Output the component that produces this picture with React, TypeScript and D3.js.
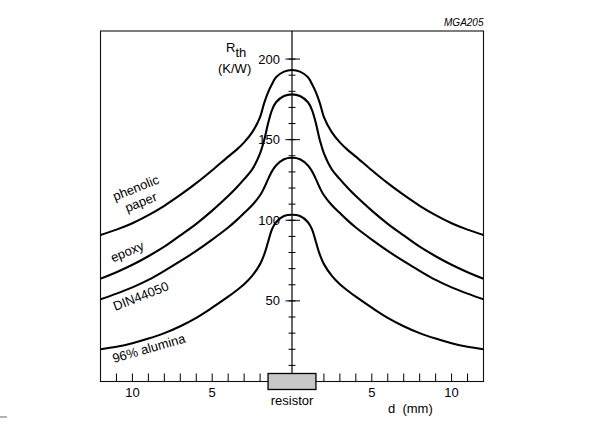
import React from "react";
import * as d3 from "d3";

// distance from resistor centre (mm)
const distance = [0, 0.5, 1, 1.25, 1.5, 1.75, 2, 2.5, 3, 3.5, 4, 5, 6, 7, 8, 9, 10, 11, 12];
// thermal resistance Rth (K/W)
const phenolicPaper = [193.2, 192.2, 188.7, 184.5, 179.3, 172.5, 164, 154.5, 148.3, 143.5, 139.5, 131, 123, 115.7, 109, 103.2, 98.2, 94.2, 90.9];
const epoxy = [178.1, 177.1, 173.2, 168.5, 160, 149.5, 141.5, 131.5, 125.5, 120, 115, 106, 97.8, 90.6, 83.6, 77.7, 72.4, 67.8, 63.8];
const din44050 = [138.8, 137.9, 134, 130.5, 125.5, 120, 115.5, 109.3, 104.5, 99.8, 95.5, 88, 81, 74.6, 68.6, 63, 58.4, 54.5, 51];
const alumina96 = [103.4, 102.6, 98.8, 94.5, 86.5, 78.5, 72.8, 65.5, 60.3, 56.3, 52.6, 45.8, 39.5, 34.3, 30, 26.6, 23.7, 21.5, 20];

const seriesNames = ["phenolic paper", "epoxy", "DIN44050", "96% alumina"];
const seriesValues = [phenolicPaper, epoxy, din44050, alumina96];

const yMajorTicks = [50, 100, 150, 200];
const yMinorTicks = d3.range(10, 201, 10);
const xTickDistances = [2, 3, 4, 5, 6, 7, 8, 9, 10, 11];
const xTickLabels = [5, 10];
const resistorHalfLength = 1.5;

const FONT = "'Liberation Sans', Arial, Helvetica, sans-serif";

export default function App() {
  const W = 605, H = 434;
  const left = 100.5, right = 483.5, top = 31, bottom = 381.5;
  const x = d3.scaleLinear().domain([-12, 12]).range([left, right]);
  const y = d3.scaleLinear().domain([0, 217.4]).range([bottom, top]);
  const x0 = x(0);

  const line = d3
    .line<[number, number]>()
    .x((p) => x(p[0]))
    .y((p) => y(p[1]))
    .curve(d3.curveCatmullRom.alpha(0.5));

  const paths = seriesValues.map((vals) => {
    const pts: [number, number][] = [];
    for (let i = distance.length - 1; i > 0; i--) pts.push([-distance[i], vals[i]]);
    for (let i = 0; i < distance.length; i++) pts.push([distance[i], vals[i]]);
    return line(pts) as string;
  });

  const labels = [
    { text: "phenolic", px: -11.09, py: 111.9, rot: -22 },
    { text: "paper", px: -10.33, py: 104.8, rot: -22 },
    { text: "epoxy", px: -11.22, py: 73.8, rot: -23 },
    { text: "DIN44050", px: -11.08, py: 43.7, rot: -21.5 },
    { text: "96% alumina", px: -11.16, py: 11.5, rot: -16 },
  ];

  return (
    <svg
      width={W}
      height={H}
      style={{ position: "absolute", left: 0, top: 0, background: "#fff" }}
      fontFamily={FONT}
    >
      <rect x={0} y={0} width={W} height={H} fill="#fff" />
      {/* frame */}
      <rect x={left} y={top} width={right - left} height={bottom - top} fill="none" stroke="#111" strokeWidth={1.1} />
      <text x={right} y={26} fontSize={10} fontStyle="italic" textAnchor="end" fill="#000">MGA205</text>

      {/* x ticks */}
      {xTickDistances.flatMap((d) => [-d, d]).map((d) => (
        <line key={"xt" + d} x1={x(d)} x2={x(d)} y1={bottom} y2={bottom - 8} stroke="#000" strokeWidth={1} />
      ))}
      {xTickLabels.flatMap((d) => [-d, d]).map((d) => (
        <text key={"xl" + d} x={x(d)} y={397} fontSize={13} textAnchor="middle" fill="#000">{Math.abs(d)}</text>
      ))}
      <text x={388} y={413} fontSize={13} fill="#000" style={{ whiteSpace: "pre" }}>{"d  (mm)"}</text>

      {/* y axis */}
      <line x1={x0} x2={x0} y1={top} y2={y(0)} stroke="#000" strokeWidth={1.2} />
      {yMinorTicks.map((v) => (
        <line key={"ym" + v} x1={x0 - 3.5} x2={x0 + 3.5} y1={y(v)} y2={y(v)} stroke="#000" strokeWidth={1} />
      ))}
      {yMajorTicks.map((v) => (
        <line key={"yM" + v} x1={x0 - 6.5} x2={x0 + 8} y1={y(v)} y2={y(v)} stroke="#000" strokeWidth={1} />
      ))}
      {yMajorTicks.map((v) => (
        <text key={"yl" + v} x={280} y={y(v) + 4.5} fontSize={13} textAnchor="end" fill="#000">{v}</text>
      ))}
      <text x={226} y={51.7} fontSize={13} fill="#000">
        R<tspan dy={5} fontSize={13}>th</tspan>
      </text>
      <text x={218} y={73} fontSize={13} fill="#000">(K/W)</text>

      {/* curves */}
      {paths.map((p, i) => (
        <path key={seriesNames[i]} d={p} fill="none" stroke="#000" strokeWidth={2.1} />
      ))}

      {labels.map((l) => (
        <text
          key={l.text}
          x={x(l.px)}
          y={y(l.py)}
          fontSize={13}
          fill="#000"
          transform={`rotate(${l.rot}, ${x(l.px)}, ${y(l.py)})`}
        >
          {l.text}
        </text>
      ))}

      {/* resistor */}
      <rect
        x={x(-resistorHalfLength)}
        y={bottom - 8}
        width={x(resistorHalfLength) - x(-resistorHalfLength)}
        height={16}
        fill="#c8c8c8"
        stroke="#000"
        strokeWidth={1.3}
      />
      <text x={x0} y={404.5} fontSize={13} textAnchor="middle" fill="#000">resistor</text>

      {/* crop mark */}
      <line x1={0} x2={7} y1={417} y2={417} stroke="#666" strokeWidth={1} />
    </svg>
  );
}
